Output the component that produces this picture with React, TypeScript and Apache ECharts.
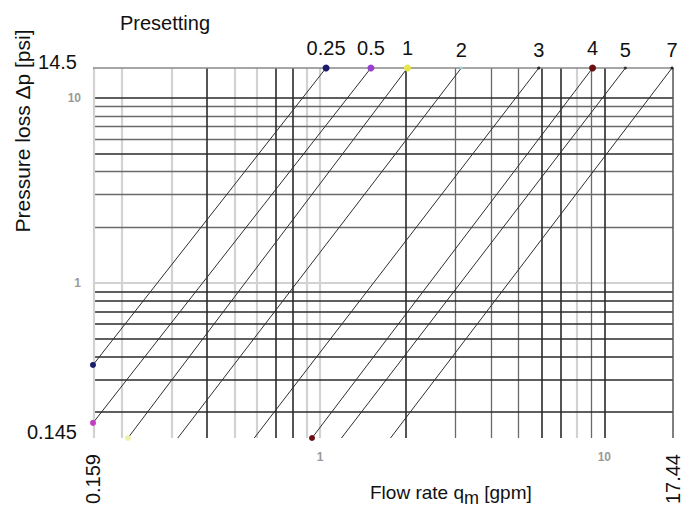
import React, { useEffect, useRef } from "react";
import * as echarts from "echarts";

// Presetting curves (Δp ∝ q²), endpoints
const presettings = ["0.25", "0.5", "1", "2", "3", "4", "5", "7"];
const topFlow = [1.05, 1.51, 2.03, 3.14, 5.88, 9.09, 11.86, 17.3];
const topDp = [14.5, 14.5, 14.5, 14.5, 14.5, 14.5, 14.5, 14.5];
const bottomFlow = [0.159, 0.159, 0.211, 0.316, 0.587, 0.937, 1.19, 1.77];
const bottomDp = [0.36, 0.175, 0.145, 0.145, 0.145, 0.145, 0.145, 0.145];

// Axis ranges and tick labels
const xMin = 0.159;
const xMax = 17.44;
const yMin = 0.145;
const yMax = 14.5;
const xEndLabels = ["0.159", "17.44"];
const xInnerLabels = ["1", "10"];
const yEndLabels = ["0.145", "14.5"];
const yInnerLabels = ["1", "10"];

// Grid lines
const xGridDark = [0.4, 0.7, 0.8, 2, 6, 7, 10];
const xGridMedium = [3, 4, 5, 9];
const xGridLight = [0.2, 0.3, 0.5, 0.6, 0.9, 1, 8];
const yGridDark = [10, 5, 0.9, 0.8, 0.7, 0.6, 0.5, 0.4, 0.3, 0.2];
const yGridMedium = [9, 8, 7, 6, 4, 3, 2];
const yGridLight = [1];

// marker colours (style)
const topColors = ["#1c1c6b", "#9a3fd0", "#e6e64a", "#9fcfcf", "#222", "#6a0f12", "#333", "#222"];
const bottomColors = ["#1c1c6b", "#c23fc2", "#eef0a8", null, null, "#6a0f12", null, null];

const FONT = "'Liberation Sans', Arial, Helvetica, sans-serif";

function near(v: number, s: string) {
  const t = parseFloat(s);
  return Math.abs(Math.log10(v / t)) < 0.005;
}

export default function App() {
  const ref = useRef<HTMLDivElement>(null);
  useEffect(() => {
    if (!ref.current) return;
    const chart = echarts.init(ref.current, null, { renderer: "svg" });

    const dark = { color: "#2a2a2a", width: 1.6, type: "solid" };
    const medium = { color: "#6a6a6a", width: 1.3, type: "solid" };
    const light = { color: "#d2d2d2", width: 2.2, type: "solid" };

    const gridLines: any[] = [];
    xGridLight.forEach((v) => gridLines.push({ xAxis: v, lineStyle: light }));
    yGridLight.forEach((v) => gridLines.push({ yAxis: v, lineStyle: light }));
    xGridMedium.forEach((v) => gridLines.push({ xAxis: v, lineStyle: medium }));
    yGridMedium.forEach((v) => gridLines.push({ yAxis: v, lineStyle: medium }));
    xGridDark.forEach((v) => gridLines.push({ xAxis: v, lineStyle: dark }));
    yGridDark.forEach((v) => gridLines.push({ yAxis: v, lineStyle: dark }));
    // frame
    gridLines.push({ xAxis: xMin, lineStyle: light });
    gridLines.push({ xAxis: xMax, lineStyle: { color: "#555", width: 1.5, type: "solid" } });
    gridLines.push({ yAxis: yMax, lineStyle: { color: "#888", width: 1.5, type: "solid" } });
    gridLines.push({ yAxis: yMin, lineStyle: { color: "#333", width: 1.6, type: "solid" } });

    const curveSeries = presettings.map((name, i) => {
      const bc = bottomColors[i];
      const tc = topColors[i];
      const colored = i < 3 || i === 5;
      return {
        type: "line",
        name,
        z: 3,
        symbol: "circle",
        showSymbol: true,
        lineStyle: { color: "#2e2e2e", width: 1 },
        emphasis: { disabled: true },
        data: [
          bc
            ? { value: [bottomFlow[i], bottomDp[i]], symbolSize: 6, itemStyle: { color: bc } }
            : { value: [bottomFlow[i], bottomDp[i]], symbol: "none" },
          {
            value: [topFlow[i], topDp[i]],
            symbolSize: colored ? 7 : 3,
            itemStyle: { color: tc },
            label: {
              show: true,
              formatter: name,
              position: "top",
              distance: 7,
              fontSize: 20,
              color: "#111",
              fontFamily: FONT,
            },
          },
        ],
      };
    });

    const option: any = {
      animation: false,
      textStyle: { fontFamily: FONT },
      grid: { left: 93, right: 7, top: 68, bottom: 75 },
      xAxis: [
        {
          type: "log",
          logBase: 10,
          min: xMin,
          max: xMax,
          position: "bottom",
          axisLine: { show: false },
          axisTick: { show: false },
          splitLine: { show: false },
          axisLabel: {
            margin: 13,
            fontSize: 12,
            fontWeight: "bold",
            color: "#9a9a9a",
            formatter: (v: number) => {
              const f = xInnerLabels.find((s) => near(v, s));
              return f || "";
            },
          },
        },
        {
          type: "log",
          logBase: 10,
          min: xMin,
          max: xMax,
          position: "bottom",
          axisLine: { show: false },
          axisTick: { show: false },
          splitLine: { show: false },
          axisLabel: {
            rotate: 90,
            margin: 16,
            fontSize: 20,
            color: "#111",
            showMinLabel: true,
            showMaxLabel: true,
            formatter: (v: number) => {
              const f = xEndLabels.find((s) => near(v, s));
              return f || "";
            },
          },
        },
      ],
      yAxis: {
        type: "log",
        logBase: 10,
        min: yMin,
        max: yMax,
        axisLine: { show: false },
        axisTick: { show: false },
        splitLine: { show: false },
        axisLabel: {
          margin: 12,
          showMinLabel: true,
          showMaxLabel: true,
          formatter: (v: number) => {
            const e = yEndLabels.find((s) => near(v, s));
            if (e) return "{big|" + e + "}";
            const f = yInnerLabels.find((s) => near(v, s));
            return f ? "{small|" + f + "}" : "";
          },
          rich: {
            big: { fontSize: 20, color: "#111", padding: [0, 4, 12, 0], fontFamily: FONT },
            small: { fontSize: 12, color: "#9a9a9a", fontWeight: "bold", fontFamily: FONT },
          },
        },
      },
      graphic: [
        {
          type: "text",
          left: 120,
          top: 13,
          style: { text: "Presetting", fontSize: 20, fill: "#111", fontFamily: FONT },
        },
        {
          type: "text",
          x: 22,
          y: 131,
          rotation: Math.PI / 2,
          style: {
            text: "Pressure loss Δp [psi]",
            fontSize: 21,
            fill: "#111",
            fontFamily: FONT,
            align: "center",
            verticalAlign: "middle",
            textAlign: "center",
            textVerticalAlign: "middle",
          },
        },
        {
          type: "text",
          left: 370,
          top: 483,
          style: {
            text: "{a|Flow rate q}{s|m}{a| [gpm]}",
            fill: "#111",
            fontFamily: FONT,
            rich: {
              a: { fontSize: 19, fill: "#111", fontFamily: FONT },
              s: { fontSize: 18, fill: "#111", fontFamily: FONT, padding: [10, 0, 0, 0] },
            },
          },
        },
      ],
      series: [
        {
          type: "line",
          z: 1,
          data: [[1, 1]],
          symbol: "none",
          lineStyle: { opacity: 0 },
          silent: true,
          markLine: {
            silent: true,
            z: 1,
            symbol: ["none", "none"],
            label: { show: false },
            emphasis: { disabled: true },
            animation: false,
            data: gridLines,
          },
        },
        ...curveSeries,
      ],
    };
    chart.setOption(option);
    return () => chart.dispose();
  }, []);
  return (
    <div
      ref={ref}
      style={{ position: "fixed", left: 0, top: 0, width: 683, height: 513, background: "#fff" }}
    />
  );
}
